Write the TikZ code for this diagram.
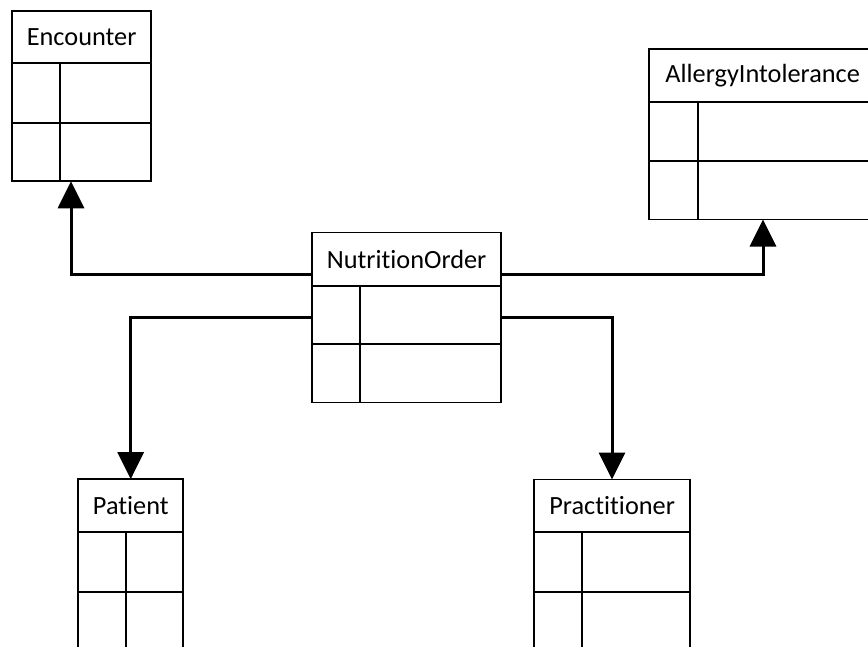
\documentclass[tikz,border=0pt]{standalone}
\usepackage{fontspec}
\setmainfont{Carlito}[Ligatures={NoCommon}]
\usetikzlibrary{arrows.meta}
\tikzset{
  box/.style={draw, line width=1.8pt, anchor=north west, inner sep=0pt, outer sep=0pt},
  titlebox/.style={box, font=\fontsize{26.3}{30}\selectfont},
  gridline/.style={line width=1.8pt},
  conn/.style={line width=3pt, -{Triangle[width=26pt,length=27pt]}},
}
\begin{document}
\begin{tikzpicture}[x=1pt,y=-1pt]
\clip (0,0) rectangle (868,646);
\fill[white] (0,0) rectangle (868,646);

% Encounter
\node[titlebox, minimum width=139.3pt, minimum height=52.6pt] (enc) at (12,10.7) {Encounter};
\node[box, minimum width=139.3pt, minimum height=118pt] (encb) at (12,63.3) {};
\draw[gridline] (60,63.3) -- (60,181.3);
\draw[gridline] (12,122.7) -- (151.3,122.7);

% AllergyIntolerance
\node[titlebox, minimum width=226.7pt, minimum height=52.4pt] (all) at (649.3,49.3) {AllergyIntolerance};
\node[box, minimum width=226.7pt, minimum height=117.8pt] (allb) at (649.3,101.7) {};
\draw[gridline] (698.3,101.7) -- (698.3,219.5);
\draw[gridline] (649.3,160.7) -- (876,160.7);

% NutritionOrder
\node[titlebox, minimum width=189.2pt, minimum height=53.5pt] (no) at (312,232.5) {NutritionOrder};
\node[box, minimum width=189.2pt, minimum height=116.5pt] (nob) at (312,286) {};
\draw[gridline] (360.2,286) -- (360.2,402.5);
\draw[gridline] (312,344.3) -- (501.2,344.3);

% Patient
\node[titlebox, minimum width=105pt, minimum height=53.1pt] (pat) at (78.3,479.2) {Patient};
\node[box, minimum width=105pt, minimum height=130pt] (patb) at (78.3,532.3) {};
\draw[gridline] (126,532.3) -- (126,662);
\draw[gridline] (78.3,591.7) -- (183.3,591.7);

% Practitioner
\node[titlebox, minimum width=155.7pt, minimum height=52.8pt] (pra) at (534.3,479.5) {Practitioner};
\node[box, minimum width=155.7pt, minimum height=130pt] (prab) at (534.3,532.3) {};
\draw[gridline] (582.3,532.3) -- (582.3,662);
\draw[gridline] (534.3,591.7) -- (690,591.7);

% Connectors
\draw[conn] (no.west |- 0,274.7) -| (encb.south -| 71,0);
\draw[conn] (no.east |- 0,274.7) -| (allb.south -| 763,0);
\draw[conn] (nob.west |- 0,317.3) -| (pat.north -| 130.7,0);
\draw[conn] (nob.east |- 0,317.3) -| (pra.north -| 612,0);
\end{tikzpicture}
\end{document}
